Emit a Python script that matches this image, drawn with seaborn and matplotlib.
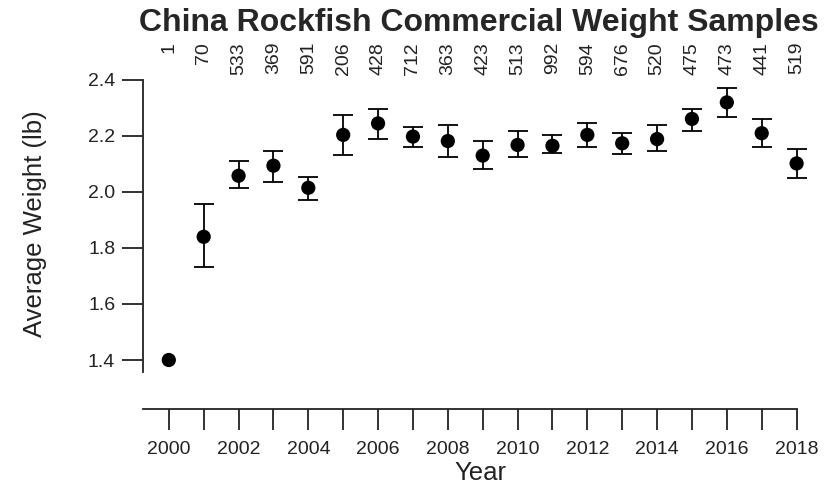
import numpy as np
import pandas as pd
import seaborn as sns
import matplotlib
matplotlib.use("Agg")
import matplotlib.pyplot as plt
import matplotlib.transforms as mtransforms

# values
years = list(range(2000, 2019))
avg_weight = [1.40, 1.84, 2.058, 2.094, 2.015, 2.204, 2.245, 2.198, 2.182, 2.130,
              2.168, 2.165, 2.204, 2.174, 2.189, 2.261, 2.320, 2.210, 2.102]
lower = [np.nan, 1.733, 2.015, 2.036, 1.970, 2.131, 2.190, 2.159, 2.125, 2.081,
         2.124, 2.138, 2.161, 2.137, 2.145, 2.219, 2.268, 2.161, 2.051]
upper = [np.nan, 1.957, 2.111, 2.146, 2.053, 2.276, 2.298, 2.233, 2.239, 2.183,
         2.219, 2.202, 2.248, 2.211, 2.239, 2.298, 2.370, 2.261, 2.154]
n_samples = [1, 70, 533, 369, 591, 206, 428, 712, 363, 423,
             513, 992, 594, 676, 520, 475, 473, 441, 519]
ytick_vals = [1.4, 1.6, 1.8, 2.0, 2.2, 2.4]

df = pd.DataFrame({'Year': years, 'Weight': avg_weight,
                   'Lower': lower, 'Upper': upper, 'N': n_samples})

sns.set_style("white")
plt.rcParams['font.family'] = ['Liberation Sans', 'DejaVu Sans']

fig = plt.figure(figsize=(8.33, 4.86), dpi=100)
ax = fig.add_axes([143/833, 1-409/486, (821-143)/833, (409-80)/486])

# error bars
ok = df['Lower'].notna()
ax.errorbar(df.loc[ok, 'Year'], df.loc[ok, 'Weight'],
            yerr=[df.loc[ok, 'Weight'] - df.loc[ok, 'Lower'],
                  df.loc[ok, 'Upper'] - df.loc[ok, 'Weight']],
            fmt='none', ecolor='black', elinewidth=1.3, capsize=7.5, capthick=1.3,
            zorder=2)
sns.scatterplot(data=df, x='Year', y='Weight', ax=ax, color='black', s=105,
                edgecolor='none', zorder=3)

ax.set_xlim(1999.26, 2018.7)
ax.set_ylim(1.225, 2.4)

# spines R-style
for side in ['top', 'right']:
    ax.spines[side].set_visible(False)
ax.spines['left'].set_bounds(1.357, 2.4)
ax.spines['bottom'].set_bounds(1999.26, 2018)
for side in ['left', 'bottom']:
    ax.spines[side].set_linewidth(1.3)
    ax.spines[side].set_color('#222222')

ax.set_yticks(ytick_vals)
ax.set_yticklabels([f"{v:.1f}" for v in ytick_vals], fontsize=14)
ax.set_xticks(years)
ax.set_xticklabels([str(y) if y % 2 == 0 else '' for y in years], fontsize=14)
ax.tick_params(axis='both', which='major', direction='out', length=15,
               width=1.3, color='#222222', labelcolor='#222222',
               bottom=True, left=True)
ax.tick_params(axis='y', pad=5)
ax.tick_params(axis='x', pad=8)

ax.set_ylabel('Average Weight (lb)', fontsize=18.5, color='#222222')
ax.yaxis.set_label_coords(-0.1416, (409-224)/329)
ax.set_xlabel('Year', fontsize=18.5, color='#222222')
ax.xaxis.set_label_coords((480-143)/678, -0.158)

# sample sizes along the top
trans = mtransforms.blended_transform_factory(ax.transData, ax.transAxes)
for yr, n in zip(df['Year'], df['N']):
    ax.text(yr, 1 + 38/329, str(n), transform=trans, rotation=90,
            ha='center', va='top', fontsize=14, color='#222222')

fig.text(479/833, 1-31/486, 'China Rockfish Commercial Weight Samples',
         ha='center', va='baseline', fontsize=23, fontweight='bold')

fig.savefig('out.png', dpi=100)
